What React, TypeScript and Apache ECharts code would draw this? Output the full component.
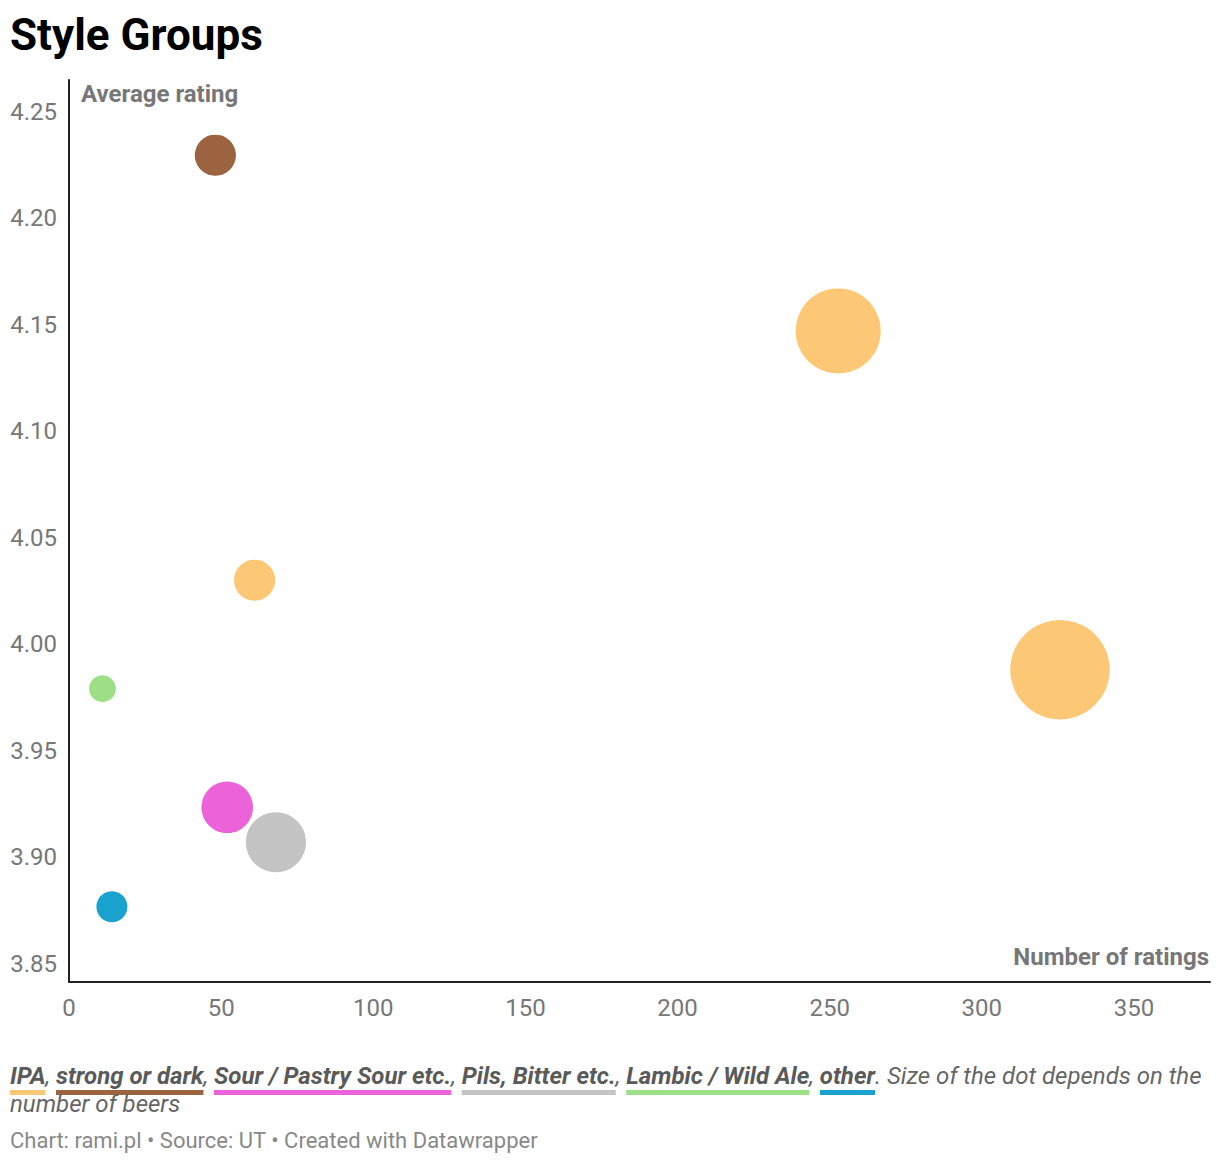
import React, { useEffect, useRef } from "react";
import * as echarts from "echarts";

// ---- data ----
const categories = ["IPA", "strong or dark", "Sour / Pastry Sour etc.", "Pils, Bitter etc.", "Lambic / Wild Ale", "other"];
const colors = ["#fdc875", "#9b6340", "#eb62d9", "#c4c4c4", "#9ddf86", "#18a2cd"];
// each point: [number of ratings, average rating, number of beers]
const ipaPoints = [[252.8, 4.147, 30], [325.7, 3.988, 41], [61.0, 4.03, 7]];
const strongPoints = [[48.1, 4.2295, 7]];
const sourPoints = [[52.0, 3.9234, 11]];
const pilsPoints = [[68.0, 3.907, 15]];
const lambicPoints = [[11.0, 3.9791, 3]];
const otherPoints = [[14.1, 3.8767, 4]];
const seriesPoints = [ipaPoints, strongPoints, sourPoints, pilsPoints, lambicPoints, otherPoints];
const yTicks = [3.85, 3.9, 3.95, 4.0, 4.05, 4.1, 4.15, 4.2, 4.25];
const xTicks = [0, 50, 100, 150, 200, 250, 300, 350];
const title = "Style Groups";
const yTitle = "Average rating";
const xTitle = "Number of ratings";
const noteText = ". Size of the dot depends on the";
const noteText2 = "number of beers";
const footer = "Chart: rami.pl \u2022 Source: UT \u2022 Created with Datawrapper";

const FONT = "Roboto, 'Noto Sans', sans-serif";

function measure(text: string, font: string): number {
  const c = document.createElement("canvas").getContext("2d");
  if (!c) return text.length * 10;
  c.font = font;
  return c.measureText(text).width;
}

export default function App() {
  const ref = useRef<HTMLDivElement>(null);
  useEffect(() => {
    if (!ref.current) return;
    const chart = echarts.init(ref.current, null, { renderer: "svg" });
    const K = 15.54;

    // legend line
    const legendSize = 24;
    const boldFont = `italic 700 ${legendSize}px Roboto`;
    const normFont = `italic 400 ${legendSize}px Roboto`;
    const legendY = 1076;
    const graphics: any[] = [];
    let x = 10;
    categories.forEach((cat, i) => {
      const w = measure(cat, boldFont);
      graphics.push({
        type: "text", x, y: legendY,
        style: { text: cat, fontFamily: FONT, fontSize: legendSize, fontStyle: "italic", fontWeight: 700, fill: "#5a5a5a", verticalAlign: "middle" },
      });
      graphics.push({ type: "rect", shape: { x, y: 1090, width: w, height: 5 }, style: { fill: colors[i] } });
      x += w;
      const sep = i < categories.length - 1 ? ", " : "";
      if (sep) {
        graphics.push({
          type: "text", x, y: legendY,
          style: { text: sep, fontFamily: FONT, fontSize: legendSize, fontStyle: "italic", fill: "#666", verticalAlign: "middle" },
        });
        x += measure(sep, normFont);
      }
    });
    graphics.push({
      type: "text", x, y: legendY,
      style: { text: noteText, fontFamily: FONT, fontSize: legendSize, fontStyle: "italic", fill: "#666", verticalAlign: "middle" },
    });
    graphics.push({
      type: "text", x: 10, y: 1104,
      style: { text: noteText2, fontFamily: FONT, fontSize: legendSize, fontStyle: "italic", fill: "#666", verticalAlign: "middle" },
    });
    graphics.push({
      type: "text", x: 10, y: 1140,
      style: { text: footer, fontFamily: FONT, fontSize: 22, fill: "#888", verticalAlign: "middle" },
    });
    graphics.push({
      type: "text", x: 10, y: 35,
      style: { text: title, fontFamily: FONT, fontSize: 44, fontWeight: 700, fill: "#000", verticalAlign: "middle" },
    });
    graphics.push({
      type: "text", x: 81, y: 94,
      style: { text: yTitle, fontFamily: FONT, fontSize: 24, fontWeight: 700, fill: "#777", verticalAlign: "middle" },
    });
    graphics.push({
      type: "text", x: 1209, y: 957,
      style: { text: xTitle, fontFamily: FONT, fontSize: 24, fontWeight: 700, fill: "#777", verticalAlign: "middle", align: "right" },
    });

    chart.setOption({
      animation: false,
      grid: { left: 69, right: 10, top: 80, bottom: 182, containLabel: false },
      xAxis: {
        type: "value", min: 0, max: 375,
        axisLine: { show: true, lineStyle: { color: "#222", width: 2 } },
        axisTick: { show: false },
        splitLine: { show: false },
        axisLabel: { customValues: xTicks, color: "#777", fontSize: 24, fontFamily: FONT, margin: 14 },
      },
      yAxis: {
        type: "value", min: 3.8414, max: 4.2648,
        axisLine: { show: true, lineStyle: { color: "#222", width: 2 } },
        axisTick: { show: false },
        splitLine: { show: false },
        axisLabel: { customValues: yTicks, color: "#777", fontSize: 24, fontFamily: FONT, margin: 12, formatter: (v: number) => v.toFixed(2) },
      },
      series: categories.map((cat, i) => ({
        type: "scatter",
        name: cat,
        data: seriesPoints[i],
        symbolSize: (v: number[]) => K * Math.sqrt(v[2]),
        itemStyle: { color: colors[i], opacity: 1 },
        emphasis: { disabled: true },
      })),
      graphic: graphics,
    });
    return () => chart.dispose();
  }, []);
  return <div ref={ref} style={{ position: "absolute", left: 0, top: 0, width: 1220, height: 1164 }} />;
}
